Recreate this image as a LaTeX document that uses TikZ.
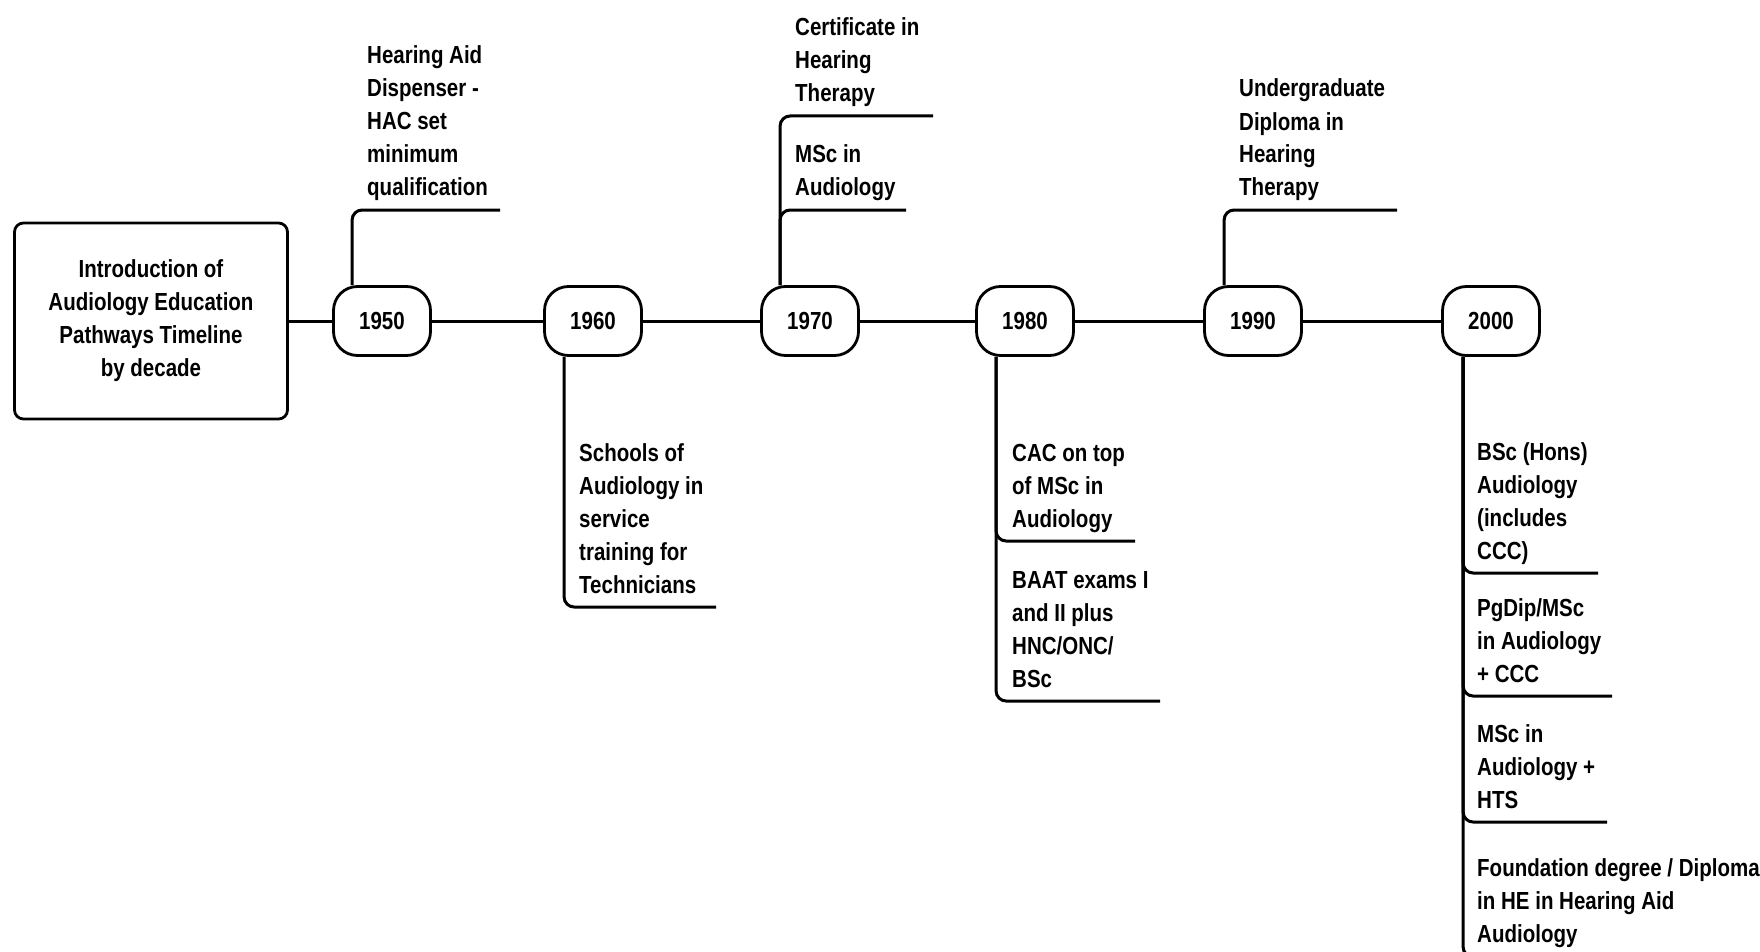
\documentclass[tikz,border=0pt]{standalone}
\usepackage{fontspec}
\setmainfont{Liberation Sans}[FakeStretch=0.83]
\begin{document}
\begin{tikzpicture}[x=1pt,y=-1pt,
  txt/.style={font=\fontsize{24.7}{33}\selectfont\bfseries},
  titlebox/.style={txt,draw,line width=2.8pt,rounded corners=9pt,
    minimum width=273pt,minimum height=196pt,align=center,inner sep=0pt},
  pill/.style={txt,draw,line width=2.8pt,rounded corners=24pt,
    minimum width=97pt,minimum height=69pt,inner sep=0pt},
  tline/.style={line width=3pt},
  lead/.style={line width=3pt,rounded corners=10pt},
  lbl/.style={txt,anchor=base west,align=left,inner sep=0pt}]
\useasboundingbox (0,0) rectangle (1760,952);
\clip (0,0) rectangle (1760,952);

% title box and decade markers
\node[titlebox] (intro) at (151,321) {Introduction of\\Audiology Education\\Pathways Timeline\\by decade};
\node[pill] (y50) at (382,321) {1950};
\node[pill] (y60) at (593,321) {1960};
\node[pill] (y70) at (810,321) {1970};
\node[pill] (y80) at (1025,321) {1980};
\node[pill] (y90) at (1253,321) {1990};
\node[pill] (y00) at (1491,321) {2000};

% main timeline
\draw[tline] (intro) -- (y50) -- (y60) -- (y70) -- (y80) -- (y90) -- (y00);

% milestone texts, placed by the baseline of their last line
\node[lbl] (l50)  at (367,196)  {Hearing Aid\\Dispenser -\\HAC set\\minimum\\qualification};
\node[lbl] (l60)  at (579,593)  {Schools of\\Audiology in\\service\\training for\\Technicians};
\node[lbl] (l70a) at (795,102)  {Certificate in\\Hearing\\Therapy};
\node[lbl] (l70b) at (795,196)  {MSc in\\Audiology};
\node[lbl] (l80a) at (1012,527) {CAC on top\\of MSc in\\Audiology};
\node[lbl] (l80b) at (1012,687) {BAAT exams I\\and II plus\\HNC/ONC/\\BSc};
\node[lbl] (l90)  at (1239,196) {Undergraduate\\Diploma in\\Hearing\\Therapy};
\node[lbl] (l00a) at (1477,559) {BSc (Hons)\\Audiology\\(includes\\CCC)};
\node[lbl] (l00b) at (1477,682) {PgDip/MSc\\in Audiology\\+ CCC};
\node[lbl] (l00c) at (1477,808) {MSc in\\Audiology +\\HTS};
\node[lbl] (l00d) at (1477,942) {Foundation degree / Diploma\\in HE in Hearing Aid\\Audiology};

% leader line ends
\coordinate (e50)  at (500,210);
\coordinate (e60)  at (716,607);
\coordinate (e70a) at (933,116);
\coordinate (e70b) at (906,210);
\coordinate (e80a) at (1135,541);
\coordinate (e80b) at (1160,701);
\coordinate (e90)  at (1397,210);
\coordinate (e00a) at (1598,573);
\coordinate (e00b) at (1612,696);
\coordinate (e00c) at (1607,822);
\coordinate (e00d) at (1740,957);

% leader lines
\draw[lead] ([xshift=20pt]y50.north west) |- (e50);
\draw[lead] ([xshift=21pt]y60.south west) |- (e60);
\draw[lead] ([xshift=20pt]y70.north west) |- (e70a);
\draw[lead] ([xshift=20pt]y70.north west) |- (e70b);
\draw[lead] ([xshift=21pt]y80.south west) |- (e80a);
\draw[lead] ([xshift=21pt]y80.south west) |- (e80b);
\draw[lead] ([xshift=21pt]y90.north west) |- (e90);
\draw[lead] ([xshift=22pt]y00.south west) |- (e00a);
\draw[lead] ([xshift=22pt]y00.south west) |- (e00b);
\draw[lead] ([xshift=22pt]y00.south west) |- (e00c);
\draw[lead] ([xshift=22pt]y00.south west) |- (e00d);
\end{tikzpicture}
\end{document}
